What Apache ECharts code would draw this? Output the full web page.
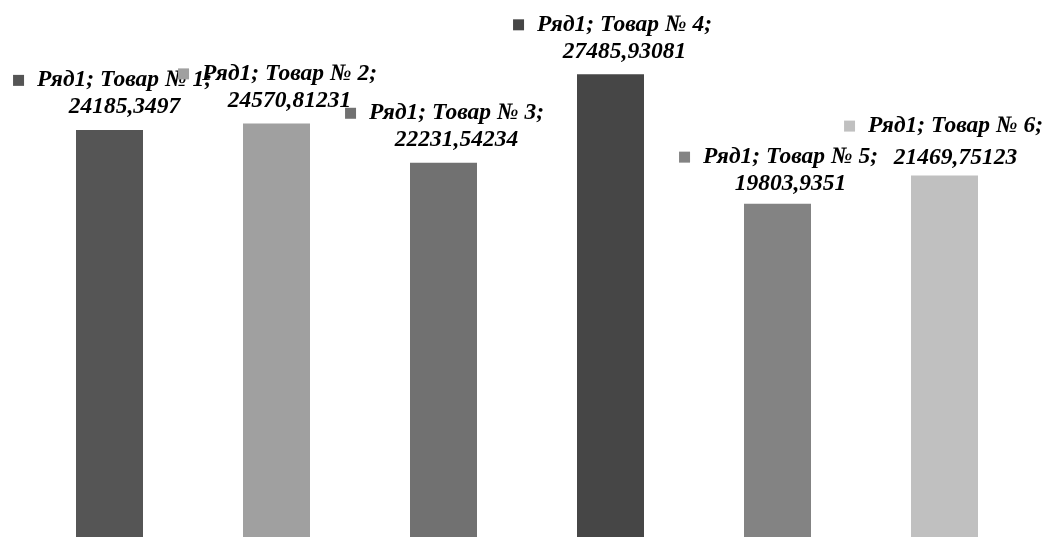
<!DOCTYPE html>
<html>
<head>
<meta charset="utf-8">
<script src="https://cdn.jsdelivr.net/npm/echarts@6/dist/echarts.min.js"></script>
<style>
  html, body { margin: 0; padding: 0; background: #ffffff; }
  #chart { width: 1055px; height: 537px; }
</style>
</head>
<body>
<div id="chart"></div>
<script>
// Series and categories
const seriesName = 'Ряд1';
const categories = ['Товар № 1', 'Товар № 2', 'Товар № 3', 'Товар № 4', 'Товар № 5', 'Товар № 6'];
const values = [24185.3497, 24570.81231, 22231.54234, 27485.93081, 19803.9351, 21469.75123];

// One grey per bar
const barColors = ['#555555', '#a0a0a0', '#717171', '#464646', '#838383', '#c0c0c0'];
// Small nudges so the data labels sit where the author placed them
const labelOffsets = [[3, 0], [1, 0], [1, 0], [2, 0], [1, 3], [-1, 9]];
// The last label has a looser gap before its value line
const valueLineHeights = [27, 27, 27, 27, 27, 36];

const textBase = {
  fontFamily: '"Liberation Serif", "Times New Roman", serif',
  fontSize: 23.5,
  fontWeight: 'bold',
  fontStyle: 'italic',
  color: '#000000',
  lineHeight: 27
};

const data = values.map((v, i) => ({
  value: v,
  itemStyle: { color: barColors[i] },
  label: {
    offset: labelOffsets[i],
    rich: {
      m: { width: 11, height: 11, backgroundColor: barColors[i] },
      t: Object.assign({ padding: [0, 0, 0, 13] }, textBase),
      v: Object.assign({ padding: [0, 0, 0, 24] }, textBase, { lineHeight: valueLineHeights[i] })
    }
  }
}));

const chart = echarts.init(document.getElementById('chart'), null, { renderer: 'canvas' });
chart.setOption({
  animation: false,
  backgroundColor: '#ffffff',
  grid: { left: 26, right: 27, top: 32, bottom: -4, containLabel: false },
  xAxis: {
    type: 'category',
    data: categories,
    show: false
  },
  yAxis: {
    type: 'value',
    min: 0,
    max: 30000,
    show: false
  },
  series: [{
    name: seriesName,
    type: 'bar',
    barWidth: 67,
    data: data,
    label: {
      show: true,
      position: 'top',
      distance: 9,
      align: 'center',
      formatter: p => '{m|}{t|' + p.seriesName + '; ' + p.name + ';}\n{v|' +
        String(p.value).replace('.', ',') + '}'
    }
  }]
});
</script>
</body>
</html>
